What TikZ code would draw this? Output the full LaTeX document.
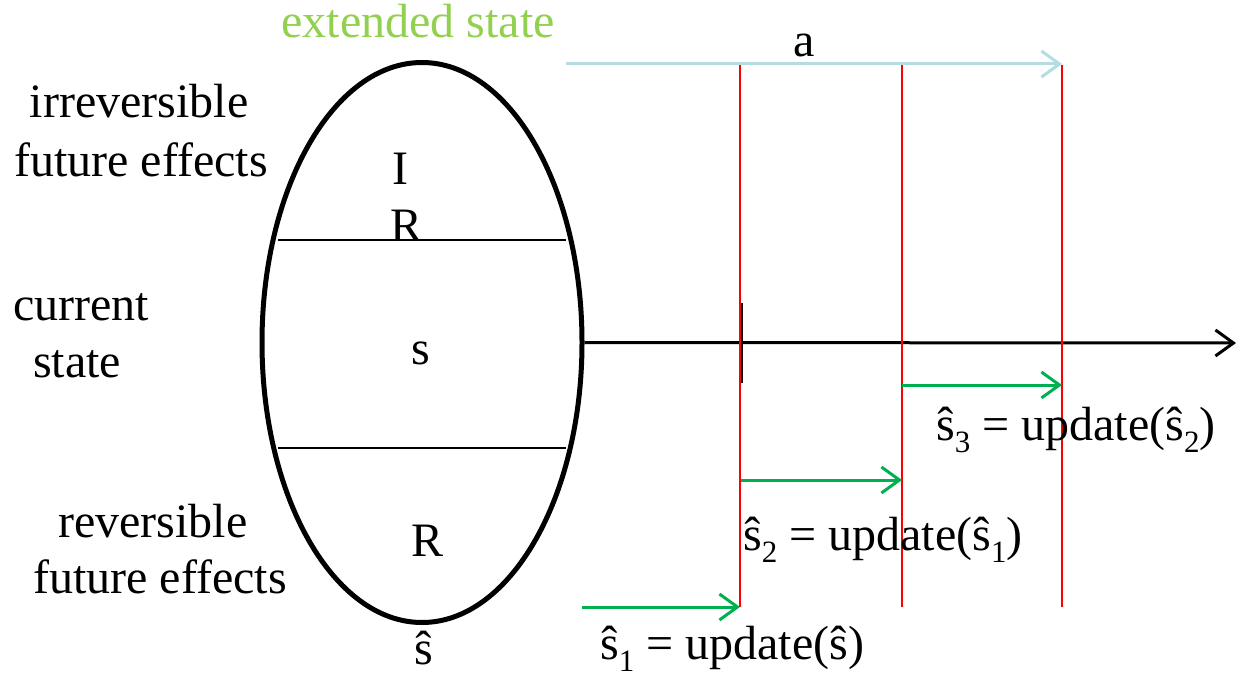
\documentclass[tikz,border=0pt]{standalone}
\usepackage{fontspec}
\setmainfont{Liberation Serif}
\usetikzlibrary{arrows.meta,shapes.geometric}
\definecolor{lblue}{HTML}{B4DCE2}
\definecolor{agreen}{HTML}{00B050}
\definecolor{tgreen}{HTML}{92D050}
\newcommand\subdig[1]{\raisebox{-0.25em}{\fontsize{31}{31}\selectfont #1}}
\tikzset{
  lbl/.style={inner sep=0pt, font=\fontsize{48}{56}\selectfont},
  redline/.style={draw=red, line width=2pt},
  barb/.style={-{Straight Barb[length=18pt,width=26pt]}},
  garrow/.style={barb, draw=agreen, line width=3pt},
}
\begin{document}
\begin{tikzpicture}[x=1pt,y=-1pt]
\useasboundingbox (0,0) rectangle (1239,676);
% ellipse
\node[draw, line width=5pt, shape=ellipse, inner sep=0pt, minimum width=320pt, minimum height=560pt] (ell) at (422,342.5) {};
% chords
\draw[line width=2pt] (278,240) -- (566,240);
\draw[line width=2pt] (278,448) -- (566,448);
% axis
\coordinate (axend) at (1236,343);
\draw[barb, line width=3pt] (ell.east) -- (axend);
\draw[line width=3pt] (741,303) -- (741,383);
% red lines
\coordinate (r1t) at (740,65);  \coordinate (r1b) at (740,607);
\coordinate (r2t) at (902,65);  \coordinate (r2b) at (902,607);
\coordinate (r3t) at (1062,65); \coordinate (r3b) at (1062,607);
\draw[redline] (r1t) -- (r1b);
\draw[redline] (r2t) -- (r2b);
\draw[redline] (r3t) -- (r3b);
% blue arrow a
\coordinate (bstart) at (566,64);
\draw[barb, draw=lblue, line width=3pt] (bstart) -- (r3t |- bstart);
\node[lbl, anchor=base] (a) at (804,57) {a};
% green arrows
\coordinate (g1) at (582,607);
\draw[garrow] (g1) -- (r1b |- g1);
\coordinate (g2) at (741,480);
\draw[garrow] (g2) -- (r2t |- g2);
\coordinate (g3) at (902,385);
\draw[garrow] (g3) -- (r3t |- g3);
% labels
\node[lbl, anchor=base, text=tgreen] (ext) at (418,38) {extended state};
\node[lbl, anchor=base] (irr) at (139,118) {irreversible};
\node[lbl, anchor=base] (ife) at (141,177) {future effects};
\node[lbl, anchor=base west] (cur) at (13,320) {current};
\node[lbl, anchor=base west] (st) at (33,377) {state};
\node[lbl, anchor=base west] (rev) at (58,537) {reversible};
\node[lbl, anchor=base west] (rfe) at (33,593) {future effects};
\node[lbl, anchor=base] (I) at (400,185) {I};
\node[lbl, anchor=base] (R1) at (407,242) {R};
\node[lbl, anchor=base] (s) at (421,364) {s};
\node[lbl, anchor=base] (R2) at (428,556) {R};
\node[lbl, anchor=base] (shat) at (424,664) {ŝ};
\node[lbl, anchor=base west] (e1) at (600,659) {ŝ\subdig{1} = update(ŝ)};
\node[lbl, anchor=base west] (e2) at (743,550) {ŝ\subdig{2} = update(ŝ\subdig{1})};
\node[lbl, anchor=base west] (e3) at (936,440) {ŝ\subdig{3} = update(ŝ\subdig{2})};
\end{tikzpicture}
\end{document}
